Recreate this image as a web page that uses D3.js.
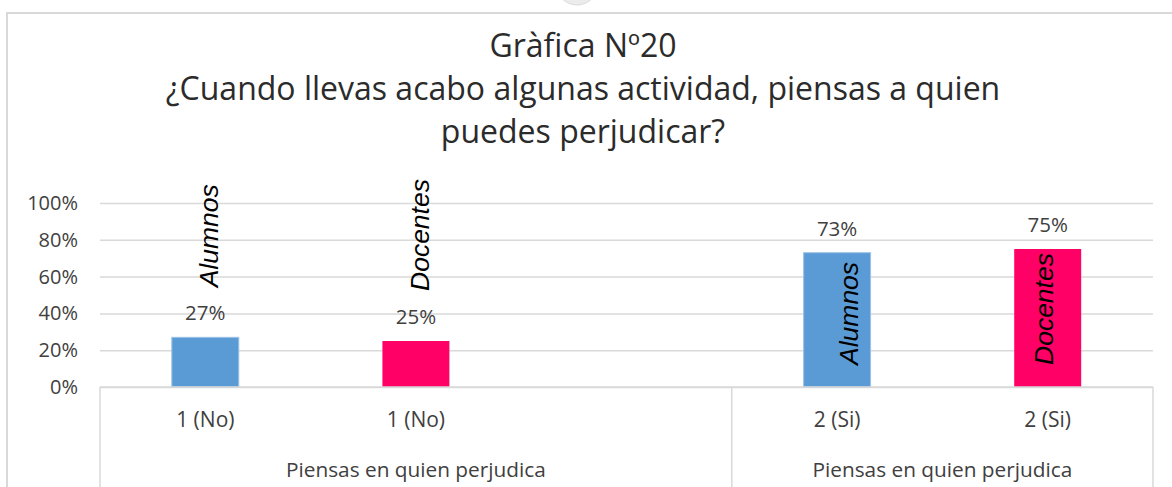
<!DOCTYPE html>
<html>
<head>
<meta charset="utf-8">
<script src="https://cdn.jsdelivr.net/npm/d3@7"></script>
<style>
  html, body { margin: 0; padding: 0; background: #fff; }
  svg { display: block; }
</style>
</head>
<body>
<svg id="chart" width="1172" height="487"></svg>
<script>
// ---- data ----
const titleLines = ["Gràfica Nº20", "¿Cuando llevas acabo algunas actividad, piensas a quien", "puedes perjudicar?"];
const categories = ["1 (No)", "1 (No)", "", "2 (Si)", "2 (Si)"];
const seriesNames = ["Alumnos", "Docentes", "", "Alumnos", "Docentes"];
const values = [0.27, 0.25, null, 0.73, 0.75];
const groupLabels = ["Piensas en quien perjudica", "Piensas en quien perjudica"];
const groupSizes = [3, 2];
const yTicks = [0, 0.2, 0.4, 0.6, 0.8, 1.0];
const seriesColors = { "Alumnos": "#5b9bd5", "Docentes": "#ff0066" };

// ---- layout ----
const svg = d3.select("#chart");
const pL = 100, pR = 1153, pT = 203, pB = 387, baseBottom = 487;

const x = d3.scaleBand().domain(d3.range(categories.length)).range([pL, pR])
  .paddingInner(0.682).paddingOuter(0.341);
const y = d3.scaleLinear().domain([0, 1]).range([pB, pT]);
const step = x.step();
const slotLeft = i => pL + i * step;

// outer chart frame (partial)
svg.append("path").attr("d", `M7,487 L7,13 L1172,13`).attr("fill", "none")
  .attr("stroke", "#d9d9d9").attr("stroke-width", 2);
svg.append("circle").attr("cx", 577).attr("cy", -16).attr("r", 21)
  .attr("fill", "#ececec").attr("stroke", "#dcdcdc");

// title
const title = svg.append("text").attr("text-anchor", "middle")
  .attr("font-family", "'Open Sans', sans-serif").attr("font-size", 32).attr("fill", "#2b2b2b");
titleLines.forEach((t, i) => {
  title.append("tspan").attr("x", 583).attr("y", 57 + i * 43).text(t);
});

// gridlines + y axis
const yAxis = d3.axisLeft(y).tickValues(yTicks).tickFormat(d3.format(".0%"))
  .tickSize(-(pR - pL)).tickPadding(22);
const gY = svg.append("g").attr("transform", `translate(${pL},0)`).call(yAxis);
gY.select(".domain").remove();
gY.selectAll(".tick line").attr("stroke", "#d9d9d9").attr("stroke-width", 1.5);
gY.selectAll(".tick text").attr("font-family", "'Open Sans', sans-serif")
  .attr("font-size", 20).attr("fill", "#404040");

// bars
const data = values.map((v, i) => ({ i, v, s: seriesNames[i], c: categories[i] })).filter(d => d.v != null);
svg.append("g").selectAll("rect").data(data).join("rect")
  .attr("x", d => x(d.i)).attr("width", x.bandwidth())
  .attr("y", d => y(d.v)).attr("height", d => y(0) - y(d.v))
  .attr("fill", d => seriesColors[d.s])
  .attr("stroke", d => d.s === "Alumnos" ? "#9dc3e6" : "none").attr("stroke-width", 1);

// value labels
svg.append("g").selectAll("text").data(data).join("text")
  .attr("x", d => x(d.i) + x.bandwidth() / 2).attr("y", d => y(d.v) - 17)
  .attr("text-anchor", "middle")
  .attr("font-family", "'Open Sans', sans-serif").attr("font-size", 20.5).attr("fill", "#404040")
  .text(d => d3.format(".0%")(d.v));

// series name labels (rotated, italic)
const inside = d => d.v > 0.5;
svg.append("g").selectAll("text").data(data).join("text")
  .attr("transform", d => {
    const cx = x(d.i) + x.bandwidth() / 2;
    if (inside(d)) {
      const dx = d.s === "Alumnos" ? 21 : 5;
      return `translate(${cx + dx},${y(0) - 22}) rotate(-90)`;
    }
    return `translate(${cx + 13},${y(d.v) - 50}) rotate(-90)`;
  })
  .attr("text-anchor", "start")
  .attr("font-family", "'Liberation Sans', Arial, sans-serif").attr("font-style", "italic")
  .attr("font-size", 26.5).attr("fill", "#000")
  .text(d => d.s);

// category axis
const xAxis = d3.axisBottom(x).tickFormat(i => categories[i]).tickSize(0).tickPadding(25);
const gX = svg.append("g").attr("transform", `translate(0,${pB})`).call(xAxis);
gX.select(".domain").remove();
gX.selectAll(".tick text").attr("font-family", "'Open Sans', sans-serif")
  .attr("font-size", 21).attr("fill", "#404040");

svg.append("line").attr("x1", pL).attr("x2", pR).attr("y1", pB).attr("y2", pB)
  .attr("stroke", "#d9d9d9").attr("stroke-width", 1.5);

// group boundaries
let acc = 0;
const bounds = [0];
groupSizes.forEach(n => { acc += n; bounds.push(acc); });
svg.append("g").selectAll("line").data(bounds).join("line")
  .attr("x1", b => slotLeft(b)).attr("x2", b => slotLeft(b))
  .attr("y1", pB).attr("y2", baseBottom)
  .attr("stroke", "#d9d9d9").attr("stroke-width", 1.5);

svg.append("g").selectAll("text").data(groupLabels).join("text")
  .attr("x", (g, k) => (slotLeft(bounds[k]) + slotLeft(bounds[k + 1])) / 2)
  .attr("y", 477).attr("text-anchor", "middle")
  .attr("font-family", "'Open Sans', sans-serif").attr("font-size", 20.8).attr("fill", "#404040")
  .text(g => g);
</script>
</body>
</html>
